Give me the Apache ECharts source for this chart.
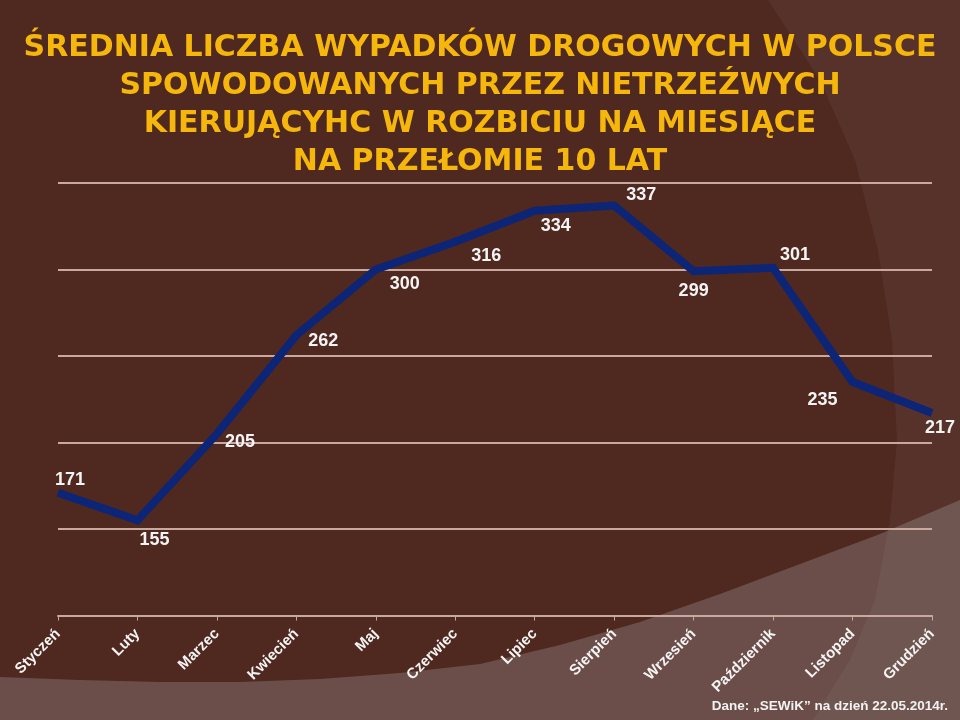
<!DOCTYPE html>
<html>
<head>
<meta charset="utf-8">
<script src="https://cdn.jsdelivr.net/npm/echarts@6/dist/echarts.min.js"></script>
<style>html,body{margin:0;padding:0;background:#4f2820;}#c{width:960px;height:720px;}</style>
</head>
<body>
<div id="c"></div>
<script>
var months = ['Styczeń','Luty','Marzec','Kwiecień','Maj','Czerwiec','Lipiec','Sierpień','Wrzesień','Październik','Listopad','Grudzień'];
var values = [171, 155, 205, 262, 300, 316, 334, 337, 299, 301, 235, 217];
var labelOffsets = [[12,-13],[17,20],[23,8],[27,6],[29,15],[31,14],[21,15],[27,-10],[0,20],[22,-13],[-30,18],[8,15]];
var titleLines = ['ŚREDNIA LICZBA WYPADKÓW DROGOWYCH W POLSCE','SPOWODOWANYCH PRZEZ NIETRZEŹWYCH','KIERUJĄCYHC W ROZBICIU NA MIESIĄCE','NA PRZEŁOMIE 10 LAT'];
var sourceText = 'Dane: „SEWiK” na dzień 22.05.2014r.';

var chart = echarts.init(document.getElementById('c'), null, {renderer:'canvas'});
var data = values.map(function(v,i){
  return {value:v, label:{offset:labelOffsets[i]}};
});
chart.setOption({
  backgroundColor:'#4f2820',
  graphic:[
    {type:'polygon', z:-10, silent:true,
     shape:{points:[[768,0],[820,80],[855,160],[878,250],[892,340],[897,440],[890,520],[875,600],[850,660],[813,720],[960,720],[960,0]]},
     style:{fill:'rgba(255,255,255,0.05)'}},
    {type:'polygon', z:-9, silent:true,
     shape:{points:[[0,677],[80,680],[160,682],[240,682],[320,679],[400,673],[480,664],[560,645],[640,622],[720,594],[800,564],[880,534],[960,500],[960,720],[0,720]]},
     style:{fill:'rgba(180,180,180,0.28)'}},
    {type:'text', right:12, top:699, style:{text:sourceText, fill:'#f2f2f2', font:'bold 13.5px "Liberation Sans", Arial, sans-serif'}}
  ],
  title:{
    text:titleLines.join('\n'), left:'center', top:24,
    textStyle:{color:'#f6b70c', fontSize:30, fontWeight:'bold', lineHeight:38, fontFamily:'"DejaVu Sans", sans-serif', align:'center'}
  },
  grid:{left:58, right:28, top:183, bottom:104.5, containLabel:false},
  xAxis:{
    type:'category', data:months, boundaryGap:false,
    axisLine:{lineStyle:{color:'#c9a8a0', width:2}},
    axisTick:{show:true, length:5, lineStyle:{color:'#c9a8a0', width:1}},
    axisLabel:{rotate:45, margin:16, color:'#f4f4f4', fontSize:15, fontWeight:'bold', fontFamily:'"Liberation Sans", Arial, sans-serif', interval:0}
  },
  yAxis:{
    type:'value', min:100, max:350, interval:50,
    axisLine:{show:false}, axisTick:{show:false}, axisLabel:{show:false},
    splitLine:{lineStyle:{color:'#c9a8a0', width:2}}
  },
  series:[{
    type:'line', data:data, symbol:'circle', symbolSize:1,
    itemStyle:{color:'rgba(0,0,0,0)'},
    lineStyle:{color:'#0c2577', width:8, join:'miter'},
    label:{show:true, position:'inside', color:'#f4f4f4', fontSize:18, fontWeight:'bold', fontFamily:'"Liberation Sans", Arial, sans-serif'},
    animation:false
  }],
  animation:false
});
</script>
</body>
</html>
